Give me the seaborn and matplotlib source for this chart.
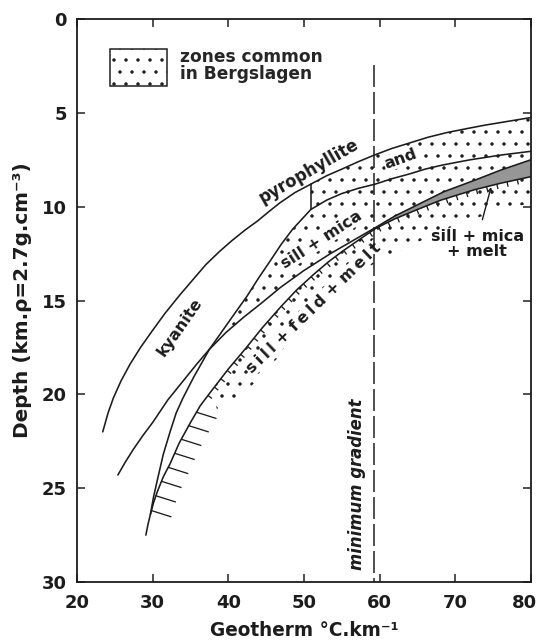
import numpy as np
import matplotlib
matplotlib.use("Agg")
import matplotlib.pyplot as plt
import seaborn as sns
import pandas as pd
from matplotlib.patches import Polygon, Patch
from matplotlib.collections import LineCollection
from matplotlib.transforms import ScaledTranslation

# ---------------- data ----------------
# pyrophyllite / kyanite limit (upper curve)
A_x = [23.4, 24.1, 24.8, 25.8, 27.0, 28.4, 29.8, 31.6, 33.6, 35.3, 37.0, 38.8, 40.5, 42.2, 43.9,
       45.4, 46.8, 48.8, 50.9, 53.0, 55.0, 57.2, 59.3, 61.6, 64.0, 66.4, 68.9, 71.4, 74.0, 77.0, 80.0]
A_d = [22.0, 21.0, 20.2, 19.3, 18.4, 17.5, 16.7, 15.7, 14.7, 13.9, 13.1, 12.4, 11.8, 11.25, 10.75,
       10.25, 9.8, 9.25, 8.8, 8.35, 8.0, 7.6, 7.25, 6.9, 6.6, 6.3, 6.05, 5.85, 5.65, 5.45, 5.25]
# short vertical boundary (pyrophyllite / and)
B_x = [50.9, 50.9]
B_d = [8.8, 10.15]
# lower boundary of 'and' field
C_x = [50.9, 53.0, 55.0, 57.2, 59.4, 61.7, 64.0, 66.0, 68.1, 70.0, 72.0, 76.0, 80.0]
C_d = [10.15, 9.65, 9.3, 9.02, 8.8, 8.5, 8.25, 8.0, 7.8, 7.65, 7.5, 7.25, 7.05]
# kyanite / sill + mica boundary
D_x = [29.1, 29.4, 29.7, 30.1, 30.6, 31.4, 32.3, 33.1, 34.0, 35.4, 37.5, 40.3, 42.5, 44.0, 45.6,
       47.0, 48.5, 50.9]
D_d = [27.5, 26.9, 26.4, 25.5, 24.6, 23.2, 22.0, 21.0, 20.2, 19.1, 17.6, 16.0, 14.75, 13.8, 12.85,
       12.0, 11.2, 10.15]
# lower limit of sill + mica
E_x = [25.4, 26.4, 27.5, 28.7, 30.0, 32.0, 34.0, 35.8, 37.5, 39.7, 42.0, 44.5, 46.9, 50.0, 53.5,
       56.5, 59.5, 62.0, 65.0, 68.5, 72.5, 76.0, 80.0]
E_d = [24.3, 23.6, 22.9, 22.2, 21.5, 20.3, 19.3, 18.4, 17.6, 16.7, 15.9, 15.1, 14.3, 13.4, 12.5,
       11.8, 11.1, 10.5, 9.9, 9.2, 8.6, 8.05, 7.5]
# hatched melting curve
H_x = [29.7, 30.1, 30.6, 31.4, 32.3, 33.5, 35.0, 36.3, 37.8, 40.0, 42.3, 44.5, 46.9, 49.0, 51.3,
       53.2, 55.0, 57.5, 59.5, 62.0, 65.0, 68.1, 72.5, 76.0, 80.0]
H_d = [26.4, 25.8, 25.2, 24.4, 23.7, 22.6, 21.5, 20.6, 19.8, 18.65, 17.55, 16.45, 15.35, 14.45, 13.6,
       12.95, 12.4, 11.7, 11.15, 10.65, 10.15, 9.65, 9.1, 8.75, 8.4]
# lower edge of the dotted sill + feld + melt zone
L_x = [38.5, 42.0, 46.9, 50.0, 54.8, 59.0, 64.4, 70.0, 75.0, 80.0]
L_d = [20.8, 20.0, 17.9, 16.5, 14.5, 13.1, 12.0, 11.0, 10.3, 9.8]
# minimum gradient
MIN_GRAD = 59.3
MIN_GRAD_TOP = 2.45

x_ticks = [20, 30, 40, 50, 60, 70, 80]
y_ticks = [0, 5, 10, 15, 20, 25, 30]

# ---------------- style ----------------
sns.set_theme(style="ticks")
plt.rcParams["font.family"] = ["DejaVu Sans"]
plt.rcParams["hatch.linewidth"] = 1.0
plt.rcParams["lines.scale_dashes"] = False
INK = "#1c1c1c"

DPI = 72
fig = plt.figure(figsize=(538 / DPI, 643 / DPI), dpi=DPI)
ax = fig.add_axes([77 / 538, 1 - 582 / 643, 454 / 538, 563 / 643])
ax.set_xlim(20, 80)
ax.set_ylim(30, 0)


def arr(x, d):
    return np.column_stack([x, d])


A = arr(A_x, A_d)
C = arr(C_x, C_d)
D = arr(D_x, D_d)
E = arr(E_x, E_d)
H = arr(H_x, H_d)
L = arr(L_x, L_d)

# ---------------- dotted zones ----------------
dot_kw = dict(facecolor="none", edgecolor=INK, hatch=".", linewidth=0, zorder=1)
and_poly = np.vstack([A[A[:, 0] >= 50.9], C[::-1]])
ax.add_patch(Polygon(and_poly, closed=True, **dot_kw))
sm_poly = np.vstack([D[D[:, 0] >= 37.5], C[1:], E[E[:, 0] >= 37.5][::-1]])
ax.add_patch(Polygon(sm_poly, closed=True, **dot_kw))
melt_poly = np.vstack([H[H[:, 0] >= 37.8], L[::-1]])
ax.add_patch(Polygon(melt_poly, closed=True, **dot_kw))

# shaded sill + mica + melt band
band = np.vstack([E[E[:, 0] >= 59.5], H[H[:, 0] >= 59.5][::-1]])
ax.add_patch(Polygon(band, closed=True, facecolor="#969696", edgecolor="none", zorder=2))

# ---------------- curves ----------------
curves = {"A": (A_x, A_d), "B": (B_x, B_d), "C": (C_x, C_d), "D": (D_x, D_d),
          "E": (E_x, E_d), "H": (H_x, H_d)}
for name, (cx, cd) in curves.items():
    df = pd.DataFrame({"x": cx, "d": cd})
    sns.lineplot(data=df, x="x", y="d", sort=False, estimator=None, ax=ax,
                 color=INK, linewidth=1.6, zorder=3)

# minimum gradient dashed line
ax.plot([MIN_GRAD, MIN_GRAD], [MIN_GRAD_TOP, 30], color=INK, linewidth=1.5,
        dashes=(22, 5), zorder=3)

# ---------------- hatch ticks on the melting curve ----------------
disp = ax.transData.transform(H)
seg = np.diff(disp, axis=0)
seglen = np.hypot(seg[:, 0], seg[:, 1])
s = np.concatenate([[0], np.cumsum(seglen)])
s_split = np.interp(-20.4, -np.array(H_d), s)
segs = []
long_dir = np.array([19.0, -6.0])
long_dir = long_dir / np.hypot(*long_dir)
for pos in np.arange(4.0, s_split, 15.5):
    p = np.array([np.interp(pos, s, disp[:, 0]), np.interp(pos, s, disp[:, 1])])
    segs.append([p, p + 21 * long_dir])
for pos in np.arange(s_split + 8, s[-1] - 4, 10.5):
    i = min(np.searchsorted(s, pos) - 1, len(seg) - 1)
    t = seg[i] / seglen[i]
    n = np.array([t[1], -t[0]])
    p = np.array([np.interp(pos, s, disp[:, 0]), np.interp(pos, s, disp[:, 1])])
    segs.append([p, p + 5 * n])
inv = ax.transData.inverted()
segs_data = [inv.transform(np.array(sg)) for sg in segs]
ax.add_collection(LineCollection(segs_data, colors=INK, linewidths=1.3, zorder=3))

# ---------------- labels ----------------
tkw = dict(color=INK, fontweight="bold", ha="center", va="center",
           rotation_mode="anchor", zorder=2.5)
clear = dict(facecolor="white", edgecolor="none", pad=0.6)
TS = "\u2009"
ax.text(50.6, 8.1, "pyrophyllite", fontsize=16.5, rotation=30, **tkw)
ax.text(62.8, 7.45, "and", fontsize=16, rotation=20, bbox=clear, **tkw)
ax.text(52.3, 11.75, "sill + mica", fontsize=16, rotation=33, bbox=clear, **tkw)
ax.text(33.6, 16.4, "kyanite", fontsize=16, rotation=55, **tkw)
feld_label = " + ".join(TS.join(w) for w in ["sill", "feld", "melt"])
ax.text(51.3, 15.4, feld_label, fontsize=16, rotation=44, bbox=clear, **tkw)
ax.text(72.9, 12.0, "sill + mica\n+ melt", fontsize=16, linespacing=1.05, **tkw)
ax.text(57.0, 24.8, "minimum gradient", fontsize=16.5, rotation=90,
        style="italic", **tkw)
ax.annotate("", xy=(74.8, 8.85), xytext=(73.5, 10.8),
            arrowprops=dict(arrowstyle="->", color=INK, lw=1.4,
                            mutation_scale=10), zorder=4)

# legend
leg = ax.legend(handles=[Patch(facecolor="white", edgecolor=INK, hatch=".", linewidth=1.5)],
                labels=["zones common\nin Bergslagen"], loc="upper left",
                bbox_to_anchor=(0.072, 0.9485), frameon=False, borderpad=0,
                borderaxespad=0, handlelength=3.4, handleheight=3.0,
                handletextpad=0.75, prop=dict(weight="bold", size=17))
for t in leg.get_texts():
    t.set_linespacing(0.9)

# ---------------- axes ----------------
ax.set_xticks(x_ticks)
ax.set_yticks(y_ticks)
ax.tick_params(axis="both", which="both", direction="in", length=8, width=1.5,
               top=True, right=True, labelsize=18, colors=INK)
ax.tick_params(axis="x", pad=12)
ax.tick_params(axis="y", pad=10)
for lab in ax.get_xticklabels() + ax.get_yticklabels():
    lab.set_fontweight("bold")
# last x label sits slightly inside the figure edge, as in the original
last = ax.get_xticklabels()[-1]
last.set_transform(last.get_transform() + ScaledTranslation(-7 / DPI, 0, fig.dpi_scale_trans))
for sp in ax.spines.values():
    sp.set_visible(True)
    sp.set_linewidth(1.8)
    sp.set_color(INK)
ax.set_xlabel("Geotherm °C.km⁻¹", fontsize=18.5, fontweight="bold", color=INK, labelpad=9)
ax.set_ylabel("Depth (km.ρ=2.7g.cm⁻³)", fontsize=20, fontweight="bold", color=INK, labelpad=10)
ax.grid(False)

fig.savefig("out.png", dpi=DPI)
